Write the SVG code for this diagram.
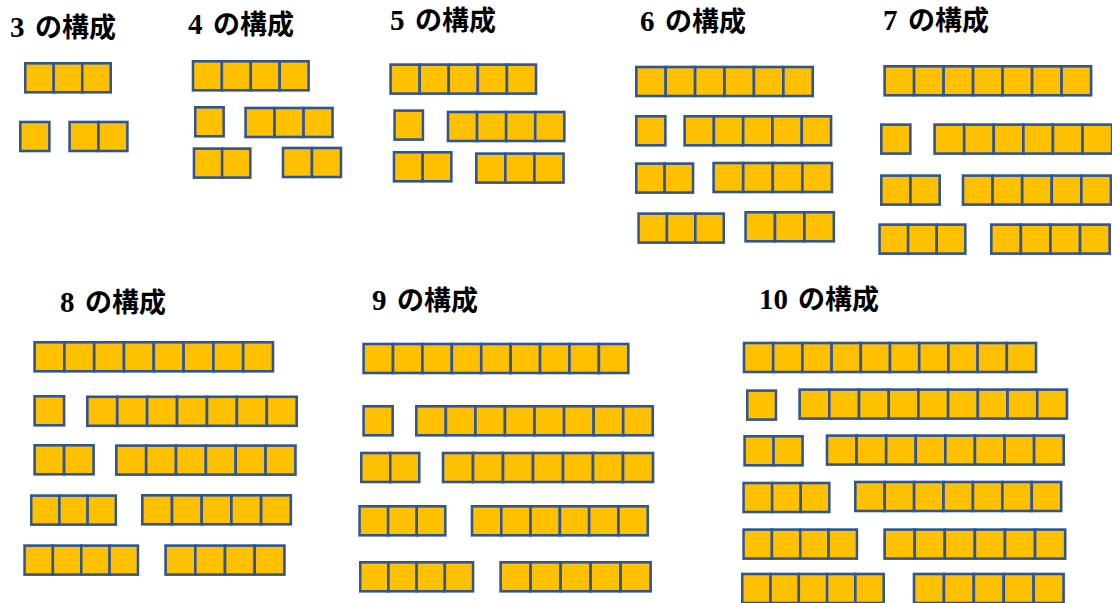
<svg xmlns="http://www.w3.org/2000/svg" xmlns:xlink="http://www.w3.org/1999/xlink" width="1112" height="603" viewBox="0 0 1112 603">
<style>
.s{fill:#FFC000;stroke:#2F5597;stroke-width:2.6}
.t{font-family:"Liberation Serif","Noto Sans CJK JP",serif;font-size:29px;font-weight:bold;fill:#000}
.k{font-family:"Noto Sans CJK JP","Liberation Serif",sans-serif;font-size:27px;font-weight:bold}
</style>
<defs>
<g id="r1"><rect class="s" x="1.3" y="1.3" width="29.5" height="29"/></g>
<g id="r2"><use href="#r1"/><use href="#r1" x="29.5"/></g>
<g id="r3"><use href="#r2"/><use href="#r1" x="59"/></g>
<g id="r4"><use href="#r2"/><use href="#r2" x="59"/></g>
<g id="r5"><use href="#r4"/><use href="#r1" x="118"/></g>
<g id="r6"><use href="#r4"/><use href="#r2" x="118"/></g>
<g id="r7"><use href="#r4"/><use href="#r3" x="118"/></g>
<g id="r8"><use href="#r4"/><use href="#r4" x="118"/></g>
<g id="r9"><use href="#r8"/><use href="#r1" x="236"/></g>
<g id="r10"><use href="#r8"/><use href="#r2" x="236"/></g>
</defs>
<rect width="1112" height="603" fill="#fff"/>

<g id="n3">
<text class="t" x="10" y="37">3 <tspan class="k" x="35">の構成</tspan></text>
<use href="#r3" transform="translate(24,62) scale(0.966,1)"/>
<use href="#r1" transform="translate(19,120.7) scale(0.986,1)"/>
<use href="#r2" transform="translate(68.3,120.7) scale(0.98,1)"/>
</g>

<g id="n4">
<text class="t" x="188" y="33.5">4 <tspan class="k" x="213">の構成</tspan></text>
<use href="#r4" transform="translate(191.7,60) scale(0.98,1)"/>
<use href="#r1" transform="translate(194,106) scale(0.963,1)"/>
<use href="#r3" transform="translate(244.3,106.7) scale(0.983,1)"/>
<use href="#r2" transform="translate(192.7,147.3) scale(0.956,1)"/>
<use href="#r2" transform="translate(281.7,146.7) scale(0.983,1)"/>
</g>

<g id="n5">
<text class="t" x="390" y="30">5 <tspan class="k" x="415">の構成</tspan></text>
<use href="#r5" transform="translate(389.3,63.3) scale(0.986,1)"/>
<use href="#r1" transform="translate(393.3,109.3) scale(0.963,1)"/>
<use href="#r4" transform="translate(446.7,110.7) scale(0.986,1)"/>
<use href="#r2" transform="translate(392.7,151) scale(0.973,1)"/>
<use href="#r3" transform="translate(475,152.3) scale(0.986,1)"/>
</g>

<g id="n6">
<text class="t" x="640" y="30.5">6 <tspan class="k" x="665">の構成</tspan></text>
<use href="#r6" transform="translate(635,65.7) scale(0.997,1)"/>
<use href="#r1" transform="translate(635,115) scale(0.986,1)"/>
<use href="#r5" transform="translate(683.3,115) scale(0.993,1)"/>
<use href="#r2" transform="translate(635,162.3) scale(0.963,1)"/>
<use href="#r4" transform="translate(712.3,161.7) scale(1.003,1)"/>
<use href="#r3" transform="translate(637.3,212.3) scale(0.963,1)"/>
<use href="#r3" transform="translate(744.3,211) scale(0.997,1)"/>
</g>

<g id="n7">
<text class="t" x="883" y="30">7 <tspan class="k" x="908">の構成</tspan></text>
<use href="#r7" transform="translate(883.3,65) scale(1,1)"/>
<use href="#r1" transform="translate(880,123.3) scale(0.986,1)"/>
<use href="#r6" transform="translate(933.3,123.3) scale(1.003,1)"/>
<use href="#r2" transform="translate(880,174.3) scale(0.99,1)"/>
<use href="#r5" transform="translate(961.7,174.3) scale(1.003,1)"/>
<use href="#r3" transform="translate(878.3,223.3) scale(0.969,1)"/>
<use href="#r4" transform="translate(990,223.3) scale(1.003,1)"/>
</g>

<g id="n8">
<text class="t" x="60" y="311.7">8 <tspan class="k" x="85">の構成</tspan></text>
<use href="#r8" transform="translate(33.3,341) scale(1.01,1)"/>
<use href="#r1" transform="translate(33.3,395) scale(1,1)"/>
<use href="#r7" transform="translate(86,395.5) scale(1.014,1)"/>
<use href="#r2" transform="translate(33.3,444) scale(1,1)"/>
<use href="#r6" transform="translate(115,444.3) scale(1.012,1)"/>
<use href="#r3" transform="translate(30,494.3) scale(0.956,1)"/>
<use href="#r5" transform="translate(141,494) scale(1.007,1)"/>
<use href="#r4" transform="translate(23.3,544.3) scale(0.961,1)"/>
<use href="#r4" transform="translate(164.3,544.3) scale(1.007,1)"/>
</g>

<g id="n9">
<text class="t" x="372" y="310">9 <tspan class="k" x="397">の構成</tspan></text>
<use href="#r9" transform="translate(362.3,342.7) scale(0.997,1)"/>
<use href="#r1" transform="translate(362.3,405) scale(0.986,1)"/>
<use href="#r8" transform="translate(415,405) scale(1.002,1)"/>
<use href="#r2" transform="translate(360,451.7) scale(0.983,1)"/>
<use href="#r7" transform="translate(441.7,451.7) scale(1.017,1)"/>
<use href="#r3" transform="translate(358.3,505) scale(0.969,1)"/>
<use href="#r6" transform="translate(470.7,505) scale(0.993,1)"/>
<use href="#r4" transform="translate(359,561) scale(0.956,1)"/>
<use href="#r5" transform="translate(499.3,561) scale(1.017,1)"/>
</g>

<g id="n10">
<text class="t" x="759" y="309.3">10 <tspan class="k" x="798">の構成</tspan></text>
<use href="#r10" transform="translate(742.7,341.7) scale(0.99,1)"/>
<use href="#r1" transform="translate(746,389.3) scale(0.973,1)"/>
<use href="#r9" transform="translate(798.3,388.3) scale(1.007,1)"/>
<use href="#r2" transform="translate(743.3,435) scale(0.983,1)"/>
<use href="#r8" transform="translate(825.7,434.3) scale(1.003,1)"/>
<use href="#r3" transform="translate(742.3,481.7) scale(0.969,1)"/>
<use href="#r7" transform="translate(854,480.7) scale(0.997,1)"/>
<use href="#r4" transform="translate(742.3,528.3) scale(0.961,1)"/>
<use href="#r6" transform="translate(883.3,528.3) scale(1.02,1)"/>
<use href="#r5" transform="translate(741,572.7) scale(0.959,1)"/>
<use href="#r5" transform="translate(912.7,572.7) scale(1.014,1)"/>
</g>
</svg>
